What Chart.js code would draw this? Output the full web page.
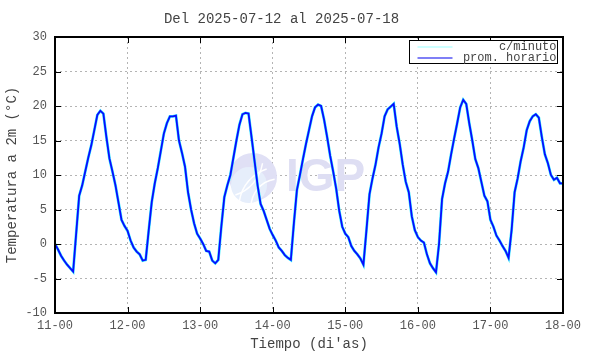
<!DOCTYPE html>
<html>
<head>
<meta charset="utf-8">
<script src="https://cdn.jsdelivr.net/npm/chart.js@4/dist/chart.umd.min.js"></script>
<style>
  html, body { margin: 0; padding: 0; background: #fff; }
  #wrap { width: 590px; height: 354px; }
</style>
</head>
<body>
<div id="wrap"><canvas id="grafico"></canvas></div>
<script>
// Promedios horarios (00h..23h de cada día)
const dia11 = [0.0, -0.8, -1.7, -2.4, -3.0, -3.5, -4.0, 1.5, 7.0, 8.5, 10.5, 12.5, 14.3, 16.5, 18.7, 19.3, 18.9, 15.5, 12.4, 10.5, 8.5, 6.0, 3.5, 2.6];
const dia12 = [1.9, 0.5, -0.5, -1.1, -1.5, -2.4, -2.3, 2.0, 6.1, 8.8, 11.0, 13.5, 16.0, 17.5, 18.5, 18.5, 18.6, 15.0, 13.2, 11.2, 7.5, 5.0, 3.0, 1.5];
const dia13 = [0.8, 0.0, -1.0, -1.1, -2.4, -2.8, -2.3, 2.5, 6.8, 8.5, 10.0, 12.5, 15.0, 17.3, 18.8, 19.0, 18.9, 15.5, 12.0, 8.5, 5.8, 4.8, 3.5, 2.2];
const dia14 = [1.3, 0.5, -0.5, -1.0, -1.6, -2.0, -2.3, 3.0, 7.8, 10.0, 12.3, 14.5, 16.5, 18.5, 19.8, 20.2, 20.0, 18.0, 15.5, 12.8, 10.5, 8.0, 4.8, 2.5];
const dia15 = [1.5, 1.0, -0.3, -1.0, -1.5, -2.1, -3.0, 2.0, 7.2, 9.5, 11.5, 14.0, 16.0, 18.5, 19.5, 19.9, 20.3, 17.0, 14.5, 11.5, 9.0, 7.5, 4.0, 2.0];
const dia16 = [1.0, 0.5, 0.2, -1.5, -2.8, -3.5, -4.1, 0.0, 6.5, 8.8, 10.5, 13.0, 15.3, 17.5, 19.8, 20.9, 20.3, 17.5, 15.0, 12.3, 11.0, 9.0, 7.0, 6.2];
const dia17 = [3.5, 2.5, 1.2, 0.5, -0.3, -1.0, -2.0, 2.0, 7.5, 9.5, 12.0, 14.0, 16.5, 17.8, 18.5, 18.8, 18.3, 15.5, 13.0, 11.7, 10.0, 9.3, 9.6, 8.8];
const dia18 = [8.8];

const etiquetasX = ['11-00', '12-00', '13-00', '14-00', '15-00', '16-00', '17-00', '18-00'];
const ticksY = [-10, -5, 0, 5, 10, 15, 20, 25, 30];

const promHorario = [].concat(dia11, dia12, dia13, dia14, dia15, dia16, dia17, dia18);
// la serie por minuto sigue a la horaria (solo se distingue el borde cian)
const porMinuto = promHorario.slice();

const FUENTE = '"Liberation Mono", "DejaVu Sans Mono", monospace';

// marco, ticks hacia adentro, leyenda y marca de agua
const extras = {
  id: 'extras',
  beforeDatasetsDraw(chart) {
    const { ctx, chartArea: a } = chart;
    const cx = (a.left + a.right) / 2 - 56, cy = (a.top + a.bottom) / 2 + 2;
    ctx.save();
    ctx.fillStyle = '#e0e0f5';
    ctx.beginPath(); ctx.arc(cx, cy, 24, 0, Math.PI * 2); ctx.fill();
    ctx.fillStyle = '#e6eefb';
    ctx.beginPath(); ctx.arc(cx - 4, cy + 8, 18, 0, Math.PI * 2); ctx.fill();
    ctx.strokeStyle = '#ffffff'; ctx.lineWidth = 1.5;
    ctx.beginPath(); ctx.arc(cx + 26, cy + 30, 40, Math.PI * 1.05, Math.PI * 1.4); ctx.stroke();
    ctx.beginPath(); ctx.arc(cx + 26, cy + 30, 28, Math.PI * 1.0, Math.PI * 1.45); ctx.stroke();
    ctx.beginPath(); ctx.arc(cx - 30, cy - 20, 40, Math.PI * 0.05, Math.PI * 0.4); ctx.stroke();
    ctx.fillStyle = '#dedef3';
    ctx.font = 'bold 46px "Liberation Sans", Arial, sans-serif';
    ctx.textBaseline = 'middle';
    ctx.fillText('IGP', cx + 33, cy + 1);
    ctx.restore();
  },
  afterDraw(chart) {
    const { ctx, chartArea: a, scales } = chart;
    ctx.save();
    ctx.strokeStyle = '#000';
    ctx.lineWidth = 1;
    const t = 6;
    ctx.beginPath();
    ticksY.forEach(v => {
      const y = Math.round(scales.y.getPixelForValue(v)) + 0.5;
      ctx.moveTo(a.left, y); ctx.lineTo(a.left + t, y);
      ctx.moveTo(a.right, y); ctx.lineTo(a.right - t, y);
    });
    etiquetasX.forEach((_, i) => {
      const x = Math.round(scales.x.getPixelForValue(i * 24)) + 0.5;
      ctx.moveTo(x, a.bottom); ctx.lineTo(x, a.bottom - t);
      ctx.moveTo(x, a.top); ctx.lineTo(x, a.top + t);
    });
    ctx.stroke();
    ctx.lineWidth = 2;
    ctx.strokeRect(a.left, a.top, a.right - a.left, a.bottom - a.top);

    // leyenda
    const bx = 409.5, by = 40.5, bw = 148, bh = 23;
    ctx.fillStyle = '#fff';
    ctx.fillRect(bx, by, bw, bh);
    ctx.lineWidth = 1;
    ctx.strokeStyle = '#000';
    ctx.strokeRect(bx, by, bw, bh);
    const items = [
      { texto: 'c/minuto', color: '#99ffff', y: by + 6.5 },
      { texto: 'prom. horario', color: '#0000ee', y: by + 17.5 }
    ];
    ctx.font = '12px ' + FUENTE;
    ctx.textAlign = 'right';
    ctx.textBaseline = 'middle';
    items.forEach(it => {
      ctx.strokeStyle = it.color;
      ctx.lineWidth = 1.2;
      ctx.beginPath(); ctx.moveTo(bx + 8, it.y); ctx.lineTo(bx + 43, it.y); ctx.stroke();
      ctx.fillStyle = '#444';
      ctx.fillText(it.texto, bx + bw - 1, it.y);
    });
    ctx.restore();
  }
};

new Chart(document.getElementById('grafico'), {
  type: 'line',
  data: {
    datasets: [
      {
        label: 'prom. horario',
        data: promHorario.map((v, i) => ({ x: i, y: v })),
        borderColor: '#0a0aff',
        borderWidth: 1.8,
        pointRadius: 0,
        tension: 0
      },
      {
        label: 'c/minuto',
        data: porMinuto.map((v, i) => ({ x: i, y: v })),
        borderColor: '#30e8ff',
        borderWidth: 2.8,
        pointRadius: 0,
        tension: 0
      }
    ]
  },
  options: {
    responsive: true,
    maintainAspectRatio: false,
    animation: false,
    layout: { padding: { left: 0, right: 27, top: 0, bottom: 0 } },
    plugins: {
      legend: { display: false },
      tooltip: { enabled: false },
      title: {
        display: true,
        text: 'Del 2025-07-12 al 2025-07-18',
        color: '#444',
        font: { family: FUENTE, size: 14, weight: 'normal', lineHeight: 1 },
        padding: { top: 12, bottom: 11 }
      }
    },
    scales: {
      x: {
        type: 'linear',
        min: 0,
        max: 168,
        afterFit: s => { s.height = 41; },
        afterBuildTicks: s => { s.ticks = etiquetasX.map((_, i) => ({ value: i * 24 })); },
        ticks: {
          autoSkip: false,
          maxRotation: 0,
          padding: 6,
          color: '#555',
          font: { family: FUENTE, size: 12 },
          callback: v => etiquetasX[v / 24]
        },
        grid: { color: '#b4b4b4', lineWidth: 1, drawTicks: false },
        border: { display: false, dash: [2, 3] },
        title: {
          display: true,
          text: "Tiempo (di'as)",
          color: '#444',
          font: { family: FUENTE, size: 14 },
          padding: { top: 0, bottom: 1 }
        }
      },
      y: {
        min: -10,
        max: 30,
        afterFit: s => { s.width = 55; },
        afterBuildTicks: s => { s.ticks = ticksY.map(v => ({ value: v })); },
        ticks: {
          padding: 8,
          color: '#555',
          font: { family: FUENTE, size: 12 }
        },
        grid: { color: '#b4b4b4', lineWidth: 1, drawTicks: false },
        border: { display: false, dash: [2, 3] },
        title: {
          display: true,
          text: 'Temperatura a 2m (°C)',
          color: '#444',
          font: { family: FUENTE, size: 14 },
          padding: { top: 4, bottom: 0 }
        }
      }
    }
  },
  plugins: [extras]
});
</script>
</body>
</html>
